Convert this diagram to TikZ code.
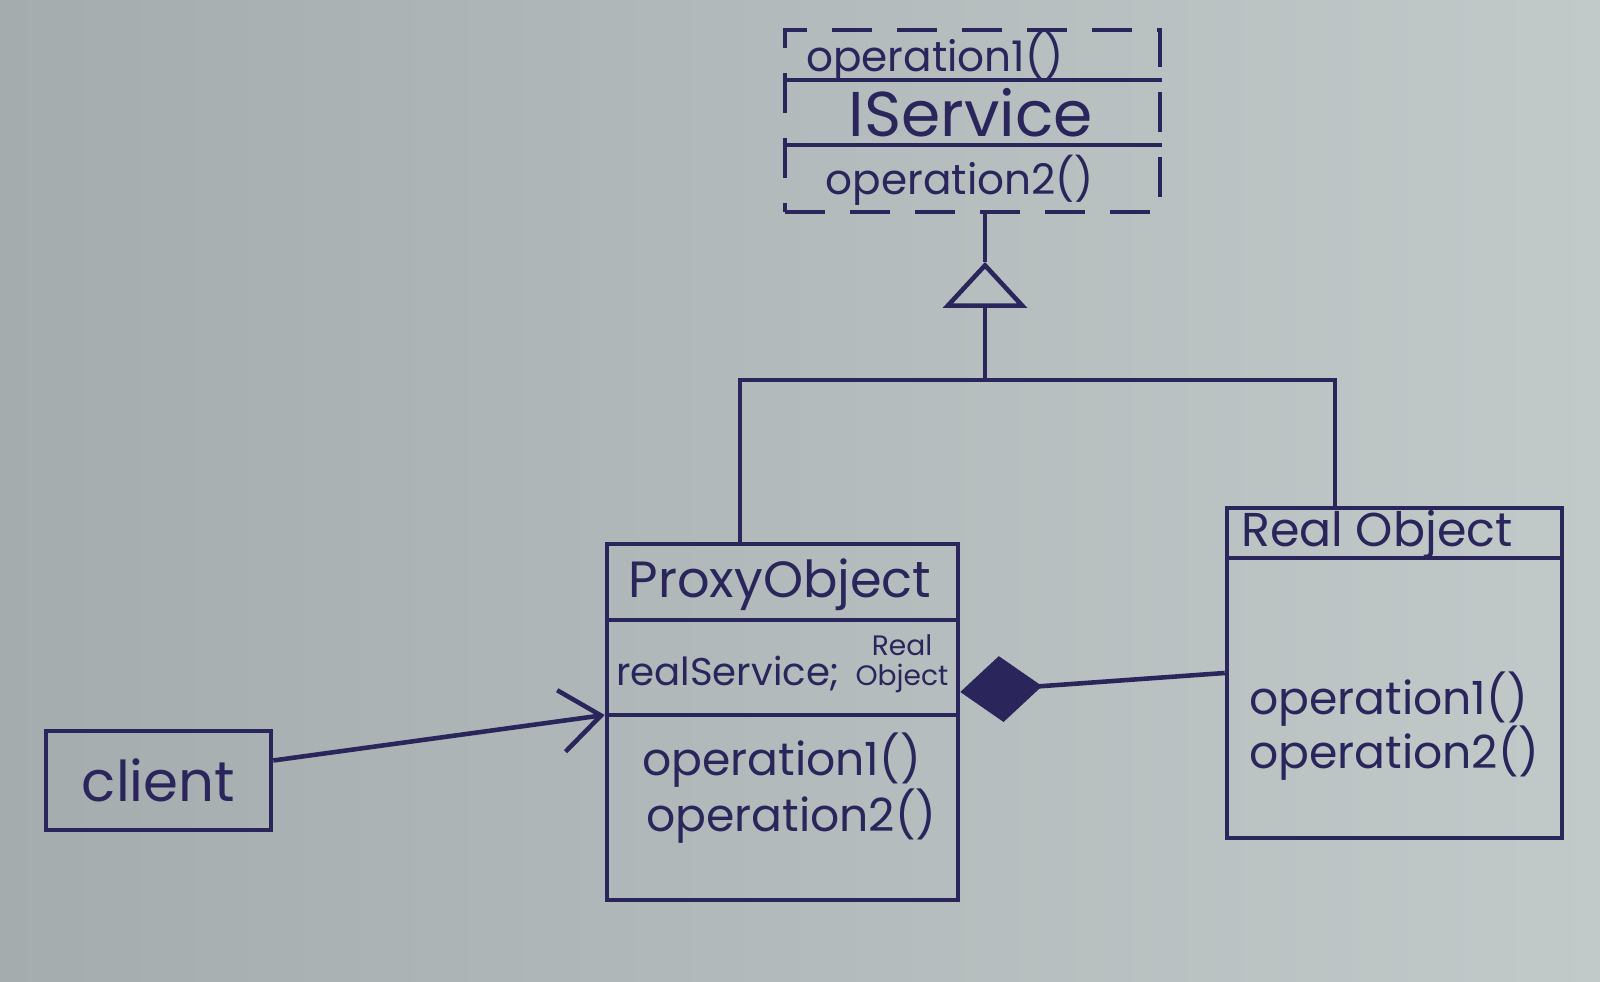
\documentclass[tikz,border=0pt]{standalone}
\usepackage{fontspec}
\setmainfont{Poppins}
\usetikzlibrary{arrows.meta}
\definecolor{paperdark}{RGB}{164,172,174}
\definecolor{paperlight}{RGB}{194,201,201}
\definecolor{ink}{RGB}{42,38,92}
\begin{document}
\begin{tikzpicture}[
  pen/.style={draw=ink, line width=1.3pt},
  classbox/.style={pen, rectangle, inner sep=0pt},
  ifacebox/.style={classbox, dash pattern=on 4mm off 2.5mm},
  umltext/.style={text=ink, inner sep=1pt, font=\fontsize{13}{15}\selectfont},
]
\shade[left color=paperdark, right color=paperlight] (0,0) rectangle (16,9.82);
\useasboundingbox (0,0) rectangle (16,9.82);

\node[ifacebox, minimum width=3.75cm, minimum height=1.82cm] (iservice) at (9.725,8.61) {};
\draw[pen] (iservice.west |- 0,9.02) -- (iservice.east |- 0,9.02);
\draw[pen] (iservice.west |- 0,8.37) -- (iservice.east |- 0,8.37);
\node[umltext, font=\fontsize{12}{14}\selectfont] (iop1) at (9.35,9.25) {operation1()};
\node[umltext, font=\fontsize{18}{20}\selectfont] (iname) at (9.71,8.69) {IService};
\node[umltext, font=\fontsize{12}{14}\selectfont] (iop2) at (9.60,8.02) {operation2()};

\node[classbox, minimum width=3.51cm, minimum height=3.56cm] (proxy) at (7.825,2.60) {};
\draw[pen] (proxy.west |- 0,3.62) -- (proxy.east |- 0,3.62);
\draw[pen] (proxy.west |- 0,2.67) coordinate (pin) -- (proxy.east |- 0,2.67);
\node[umltext, font=\fontsize{14.5}{16}\selectfont] (pname) at (7.80,3.97) {ProxyObject};
\node[umltext, anchor=west, font=\fontsize{11}{13}\selectfont] (pattr) at (6.12,3.08) {realService;};
\node[umltext, align=center, font=\fontsize{8}{8.5}\selectfont] (ptype) at (9.02,3.18) {Real\\Object};
\node[umltext, anchor=west] (pop1) at (6.38,2.22) {operation1()};
\node[umltext, anchor=west] (pop2) at (6.42,1.66) {operation2()};

\node[classbox, minimum width=3.35cm, minimum height=3.30cm] (real) at (13.945,3.09) {};
\draw[pen] (real.west |- 0,4.24) -- (real.east |- 0,4.24);
\node[umltext, anchor=west, font=\fontsize{13.5}{15}\selectfont] (rname) at (12.37,4.47) {Real Object};
\node[umltext, anchor=west] (rop1) at (12.45,2.83) {operation1()};
\node[umltext, anchor=west] (rop2) at (12.45,2.29) {operation2()};

\node[classbox, minimum width=2.25cm, minimum height=0.99cm, text=ink, font=\fontsize{16}{18}\selectfont] (client) at (1.585,2.015) {client};

\coordinate (tip) at (9.85,7.20);
\coordinate (branch) at (9.85,6.02);
\draw[pen] (tip) -- (tip |- iservice.south);
\draw[pen, -{Triangle[open, length=4.6mm, width=8.4mm]}] (branch) -- (tip);
\draw[pen] ([xshift=-4.25mm]proxy.north) |- (branch) -| ([xshift=-5.95mm]real.north);
\draw[pen, {Diamond[length=8.2mm, width=6.6mm]}-] ([yshift=3mm]proxy.east) -- (real.west);
\draw[pen, -{Straight Barb[length=4mm, width=6.2mm]}] ([yshift=2mm]client.east) -- (pin);
\end{tikzpicture}
\end{document}
